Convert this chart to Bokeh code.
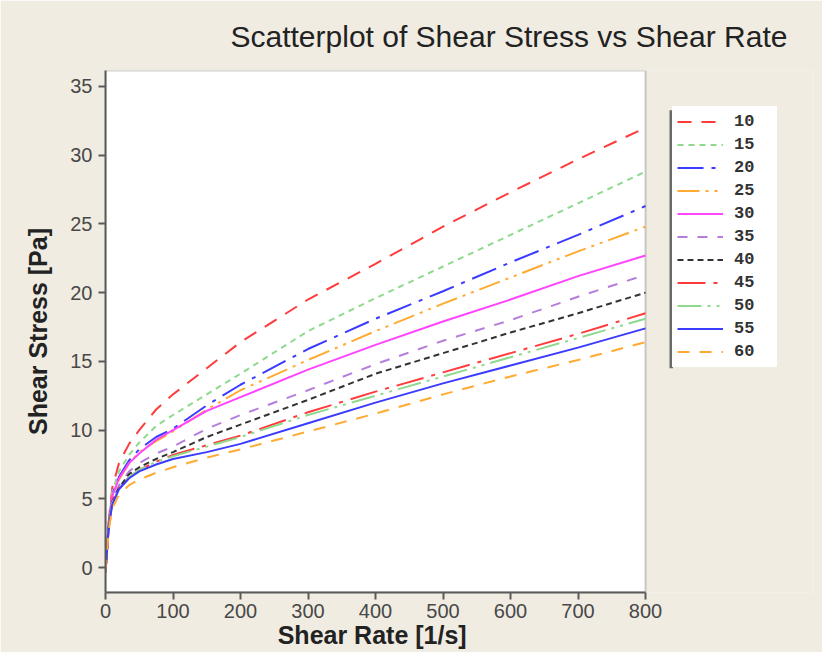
from bokeh.plotting import figure
from bokeh.models import Legend, LegendItem, Range1d, FixedTicker, Title, BoxAnnotation
from bokeh.embed import file_html
from bokeh.resources import INLINE

# ---- data ----
shear_rate = [0, 5, 10, 20, 35, 50, 75, 100, 150, 200, 300, 400, 500, 600, 700, 800]

series_names = ["10", "15", "20", "25", "30", "35", "40", "45", "50", "55", "60"]

stress_10 = [-0.3, 3.5, 5.8, 7.6, 9.0, 10.0, 11.5, 12.6, 14.5, 16.4, 19.5, 22.1, 24.8, 27.3, 29.7, 32.0]
stress_15 = [-0.3, 3.4, 5.5, 7.0, 8.2, 9.1, 10.3, 11.1, 12.6, 14.1, 17.2, 19.6, 21.9, 24.2, 26.5, 28.8]
stress_20 = [-0.3, 3.3, 5.3, 6.6, 7.8, 8.6, 9.5, 10.1, 11.8, 13.3, 15.9, 18.1, 20.1, 22.2, 24.2, 26.3]
stress_25 = [-0.3, 3.3, 5.2, 6.4, 7.6, 8.4, 9.2, 9.9, 11.5, 12.9, 15.1, 17.2, 19.2, 21.1, 23.0, 24.8]
stress_30 = [-0.4, 3.3, 5.2, 6.5, 7.6, 8.3, 9.3, 10.0, 11.4, 12.4, 14.4, 16.2, 17.9, 19.5, 21.2, 22.7]
stress_35 = [-0.3, 3.2, 4.9, 6.0, 7.0, 7.6, 8.3, 8.8, 10.1, 11.1, 12.9, 14.8, 16.5, 18.0, 19.7, 21.3]
stress_40 = [-0.3, 3.2, 4.8, 5.8, 6.8, 7.3, 7.9, 8.4, 9.5, 10.4, 12.2, 14.1, 15.6, 17.1, 18.5, 20.0]
stress_45 = [-0.3, 3.1, 4.7, 5.8, 6.6, 7.1, 7.7, 8.2, 8.9, 9.6, 11.3, 12.8, 14.2, 15.6, 17.0, 18.5]
stress_50 = [-0.3, 3.1, 4.7, 5.8, 6.6, 7.1, 7.7, 8.1, 8.8, 9.5, 11.1, 12.5, 13.9, 15.3, 16.7, 18.1]
stress_55 = [-0.3, 3.0, 4.6, 5.7, 6.5, 7.0, 7.5, 7.9, 8.4, 9.0, 10.5, 12.0, 13.4, 14.7, 16.0, 17.4]
stress_60 = [-0.3, 2.8, 4.3, 5.3, 6.0, 6.4, 6.9, 7.3, 8.0, 8.6, 9.9, 11.2, 12.6, 13.9, 15.1, 16.4]

all_stress = [stress_10, stress_15, stress_20, stress_25, stress_30, stress_35,
              stress_40, stress_45, stress_50, stress_55, stress_60]

x_ticks = [0, 100, 200, 300, 400, 500, 600, 700, 800]
y_ticks = [0, 5, 10, 15, 20, 25, 30, 35]
X_MAX = 800

# ---- styles / layout ----
colors = ["#FF3B3B", "#8FD98F", "#3B3BFF", "#FFAA33", "#FF44FF", "#B57EDC",
          "#333333", "#FF3B3B", "#8FD98F", "#3B3BFF", "#FFAA33"]
dashes = ["14 10", "6 5", "26 8 4 8", "22 6 3 6 3 6", "solid", "10 10",
          "6 4", "28 8 4 8", "24 6 3 6 3 6", "solid", "12 10"]

BG = "#F0ECE2"
W, H = 822, 652
LEFT, TOP, BOTTOM_PX = 105, 68, 592          # frame edges (px)
RIGHT = 812                                   # frame extends under the legend area
PX_PER_X = 540 / 800                          # 0..800 spans 540 px
PX_PER_Y = 13.8
Y0_PX = 567                                   # pixel row of y = 0
x_end = (RIGHT - LEFT) / PX_PER_X
y_top = (Y0_PX - TOP) / PX_PER_Y
y_bot = (Y0_PX - BOTTOM_PX) / PX_PER_Y

p = figure(width=W, height=H, output_backend="svg", toolbar_location=None,
           x_range=Range1d(0, x_end), y_range=Range1d(y_bot, y_top),
           min_border_left=LEFT, min_border_right=W - RIGHT, min_border_top=TOP,
           min_border_bottom=H - BOTTOM_PX)

p.background_fill_color = BG
p.border_fill_color = BG
p.outline_line_color = None
p.xgrid.visible = False
p.ygrid.visible = False

# white plotting area with dark border, limited to x in [0, 800]
plot_box = BoxAnnotation(left=0, right=X_MAX, fill_color="white", fill_alpha=1,
                         line_color="#5A5A5A", line_width=2, level="underlay")
p.add_layout(plot_box)

p.title = Title(text="Scatterplot of Shear Stress vs Shear Rate", align="left", offset=125,
                text_font="Liberation Sans", text_font_size="30px", text_font_style="normal",
                text_color="#222222", standoff=35)

for ax in (p.xaxis[0], p.yaxis[0]):
    ax.axis_line_color = "#5A5A5A"
    ax.axis_line_width = 2
    ax.major_tick_line_color = "#5A5A5A"
    ax.major_tick_line_width = 2
    ax.major_tick_out = 7
    ax.major_tick_in = 0
    ax.minor_tick_line_color = None
    ax.major_label_text_font = "Liberation Sans"
    ax.major_label_text_font_size = "20px"
    ax.major_label_text_color = "#484848"
    ax.axis_label_text_font = "Liberation Sans"
    ax.axis_label_text_font_style = "bold"
    ax.axis_label_text_color = "#222222"

p.xaxis.bounds = (0, X_MAX)
p.xaxis.axis_label_text_font_size = "25px"
p.yaxis.axis_label_text_font_size = "25px"
p.xaxis.ticker = FixedTicker(ticks=x_ticks)
p.yaxis.ticker = FixedTicker(ticks=y_ticks)
# trailing no-break spaces shift the centred label over the 0..800 part of the frame
p.xaxis.axis_label = "Shear Rate [1/s]" + "\u00a0" * 25
p.yaxis.axis_label = "Shear Stress [Pa]"
p.xaxis.major_label_standoff = 4
p.xaxis.axis_label_standoff = 0
p.yaxis.major_label_standoff = 6
p.yaxis.axis_label_standoff = 15

items = []
for name, ys, c, d in zip(series_names, all_stress, colors, dashes):
    r = p.line(shear_rate, ys, line_color=c, line_width=2, line_dash=d)
    items.append(LegendItem(label=name, renderers=[r]))

# legend box: left edge at px 672, bottom edge at px 367
legend = Legend(items=items, location=(672 - LEFT, BOTTOM_PX - 367))
legend.background_fill_color = "white"
legend.background_fill_alpha = 1
legend.border_line_color = "white"
legend.border_line_width = 1
legend.padding = 4
legend.margin = 0
legend.spacing = 2
legend.glyph_width = 46
legend.glyph_height = 21
legend.label_height = 21
legend.label_width = 38
legend.label_standoff = 11
legend.label_text_font = "Liberation Mono"
legend.label_text_font_size = "17px"
legend.label_text_font_style = "bold"
legend.label_text_color = "#333333"
p.add_layout(legend)

# dark bar on the legend's left side
bar = BoxAnnotation(left=(669 - LEFT) / PX_PER_X, right=(672.5 - LEFT) / PX_PER_X,
                    top=(Y0_PX - 108) / PX_PER_Y, bottom=(Y0_PX - 367) / PX_PER_Y,
                    fill_color="#6A6A6A", fill_alpha=1, line_color=None, level="overlay")
p.add_layout(bar)

open("out.html", "w").write(file_html(p, INLINE))
